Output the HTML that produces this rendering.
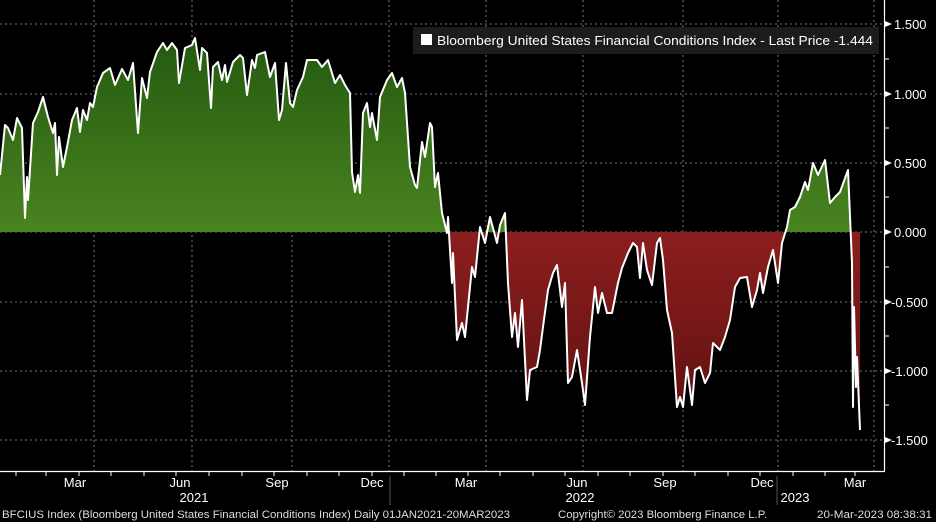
<!DOCTYPE html>
<html><head><meta charset="utf-8"><style>
html,body{margin:0;padding:0;background:#000;}
svg{display:block;font-family:"Liberation Sans",sans-serif;}
</style></head><body>
<svg width="936" height="522" viewBox="0 0 936 522" xmlns="http://www.w3.org/2000/svg">
<defs>
<linearGradient id="g" x1="0" y1="38" x2="0" y2="232" gradientUnits="userSpaceOnUse">
<stop offset="0" stop-color="#245a10"/><stop offset="1" stop-color="#4a8420"/></linearGradient>
<linearGradient id="r" x1="0" y1="232" x2="0" y2="430" gradientUnits="userSpaceOnUse">
<stop offset="0" stop-color="#8c1e1e"/><stop offset="1" stop-color="#5e1010"/></linearGradient>
<clipPath id="up"><rect x="0" y="0" width="936" height="232"/></clipPath>
<clipPath id="dn"><rect x="0" y="232" width="936" height="300"/></clipPath>
</defs>
<rect width="936" height="522" fill="#000"/>
<g stroke="#777" stroke-width="1" stroke-dasharray="2,3">
<line x1="0" y1="24" x2="884" y2="24"/><line x1="0" y1="94" x2="884" y2="94"/><line x1="0" y1="163" x2="884" y2="163"/><line x1="0" y1="232" x2="884" y2="232"/><line x1="0" y1="302" x2="884" y2="302"/><line x1="0" y1="371" x2="884" y2="371"/><line x1="0" y1="440" x2="884" y2="440"/>
<line x1="94" y1="0" x2="94" y2="471"/><line x1="192" y1="0" x2="192" y2="471"/><line x1="292" y1="0" x2="292" y2="471"/><line x1="389" y1="0" x2="389" y2="471"/><line x1="486" y1="0" x2="486" y2="471"/><line x1="583" y1="0" x2="583" y2="471"/><line x1="683" y1="0" x2="683" y2="471"/><line x1="778" y1="0" x2="778" y2="471"/><line x1="874" y1="0" x2="874" y2="471"/>
</g>
<g id="series">
<polygon clip-path="url(#up)" fill="url(#g)" points="0,232 0,175 5,125 8,128 13,140 17,118 22,128 25,218 27,177 28,200 33,123 38,112 43,97 48,117 53,133 55,123 57,175 59,137 63,167 67,147 72,120 77,108 80,132 83,110 87,120 90,103 93,107 97,87 103,73 110,68 115,85 122,69 128,80 133,63 138,133 142,78 147,98 150,72 157,52 163,43 167,50 172,43 177,50 179,83 185,48 192,45 195,38 200,70 202,48 207,53 211,108 213,67 218,62 222,80 225,65 227,82 233,62 240,55 243,58 247,95 252,60 255,68 257,55 265,52 270,77 275,63 279,120 282,110 286,63 290,103 293,107 297,90 303,77 307,60 317,60 322,67 328,60 335,83 340,75 345,85 350,93 352,172 355,192 358,175 360,193 363,113 367,103 370,127 372,113 377,140 380,97 387,80 392,73 397,87 402,78 405,93 410,167 415,185 417,188 422,142 425,157 430,123 432,127 435,187 438,173 442,213 447,233 448,217 452,283 453,253 457,340 462,323 465,337 472,267 475,277 480,227 485,243 490,217 497,243 500,225 505,213 508,283 512,337 515,313 518,347 522,300 527,400 530,370 537,367 540,350 543,327 548,290 553,273 557,265 562,307 565,283 568,383 572,377 577,350 582,383 585,405 590,337 595,287 598,313 602,293 607,313 612,313 618,283 622,268 628,253 633,243 637,247 640,278 643,243 647,270 652,285 657,243 660,238 663,260 667,310 672,333 677,407 680,397 683,407 687,367 692,405 695,370 700,367 705,383 710,373 713,343 720,350 725,337 730,320 735,287 740,278 747,277 752,307 757,290 760,273 763,293 768,267 773,250 778,283 782,243 787,227 790,210 795,207 800,197 805,182 808,190 813,163 818,175 825,160 830,203 835,197 840,192 848,170 852,263 853,407 854,307 856,387 857,357 860,430 860,232"/>
<polygon clip-path="url(#dn)" fill="url(#r)" points="0,232 0,175 5,125 8,128 13,140 17,118 22,128 25,218 27,177 28,200 33,123 38,112 43,97 48,117 53,133 55,123 57,175 59,137 63,167 67,147 72,120 77,108 80,132 83,110 87,120 90,103 93,107 97,87 103,73 110,68 115,85 122,69 128,80 133,63 138,133 142,78 147,98 150,72 157,52 163,43 167,50 172,43 177,50 179,83 185,48 192,45 195,38 200,70 202,48 207,53 211,108 213,67 218,62 222,80 225,65 227,82 233,62 240,55 243,58 247,95 252,60 255,68 257,55 265,52 270,77 275,63 279,120 282,110 286,63 290,103 293,107 297,90 303,77 307,60 317,60 322,67 328,60 335,83 340,75 345,85 350,93 352,172 355,192 358,175 360,193 363,113 367,103 370,127 372,113 377,140 380,97 387,80 392,73 397,87 402,78 405,93 410,167 415,185 417,188 422,142 425,157 430,123 432,127 435,187 438,173 442,213 447,233 448,217 452,283 453,253 457,340 462,323 465,337 472,267 475,277 480,227 485,243 490,217 497,243 500,225 505,213 508,283 512,337 515,313 518,347 522,300 527,400 530,370 537,367 540,350 543,327 548,290 553,273 557,265 562,307 565,283 568,383 572,377 577,350 582,383 585,405 590,337 595,287 598,313 602,293 607,313 612,313 618,283 622,268 628,253 633,243 637,247 640,278 643,243 647,270 652,285 657,243 660,238 663,260 667,310 672,333 677,407 680,397 683,407 687,367 692,405 695,370 700,367 705,383 710,373 713,343 720,350 725,337 730,320 735,287 740,278 747,277 752,307 757,290 760,273 763,293 768,267 773,250 778,283 782,243 787,227 790,210 795,207 800,197 805,182 808,190 813,163 818,175 825,160 830,203 835,197 840,192 848,170 852,263 853,407 854,307 856,387 857,357 860,430 860,232"/>
<polyline fill="none" stroke="#fff" stroke-width="2" stroke-linejoin="round" points="0,175 5,125 8,128 13,140 17,118 22,128 25,218 27,177 28,200 33,123 38,112 43,97 48,117 53,133 55,123 57,175 59,137 63,167 67,147 72,120 77,108 80,132 83,110 87,120 90,103 93,107 97,87 103,73 110,68 115,85 122,69 128,80 133,63 138,133 142,78 147,98 150,72 157,52 163,43 167,50 172,43 177,50 179,83 185,48 192,45 195,38 200,70 202,48 207,53 211,108 213,67 218,62 222,80 225,65 227,82 233,62 240,55 243,58 247,95 252,60 255,68 257,55 265,52 270,77 275,63 279,120 282,110 286,63 290,103 293,107 297,90 303,77 307,60 317,60 322,67 328,60 335,83 340,75 345,85 350,93 352,172 355,192 358,175 360,193 363,113 367,103 370,127 372,113 377,140 380,97 387,80 392,73 397,87 402,78 405,93 410,167 415,185 417,188 422,142 425,157 430,123 432,127 435,187 438,173 442,213 447,233 448,217 452,283 453,253 457,340 462,323 465,337 472,267 475,277 480,227 485,243 490,217 497,243 500,225 505,213 508,283 512,337 515,313 518,347 522,300 527,400 530,370 537,367 540,350 543,327 548,290 553,273 557,265 562,307 565,283 568,383 572,377 577,350 582,383 585,405 590,337 595,287 598,313 602,293 607,313 612,313 618,283 622,268 628,253 633,243 637,247 640,278 643,243 647,270 652,285 657,243 660,238 663,260 667,310 672,333 677,407 680,397 683,407 687,367 692,405 695,370 700,367 705,383 710,373 713,343 720,350 725,337 730,320 735,287 740,278 747,277 752,307 757,290 760,273 763,293 768,267 773,250 778,283 782,243 787,227 790,210 795,207 800,197 805,182 808,190 813,163 818,175 825,160 830,203 835,197 840,192 848,170 852,263 853,407 854,307 856,387 857,357 860,430"/>
</g>
<!-- legend -->
<rect x="413" y="27" width="466" height="27" fill="#1c1c1c"/>
<rect x="421" y="34" width="11" height="11" fill="#fff"/>
<text x="437" y="45" fill="#fff" font-size="13" textLength="436" lengthAdjust="spacingAndGlyphs">Bloomberg United States Financial Conditions Index - Last Price  -1.444</text>
<!-- y axis -->
<line x1="884.5" y1="0" x2="884.5" y2="471" stroke="#fff" stroke-width="1.2"/>
<line x1="0" y1="471.5" x2="885" y2="471.5" stroke="#fff" stroke-width="1.2"/>
<g fill="#fff">
<polygon points="885,21 892,24 885,27"/><polygon points="885,91 892,94 885,97"/><polygon points="885,160 892,163 885,166"/><polygon points="885,229 892,232 885,235"/><polygon points="885,299 892,302 885,305"/><polygon points="885,368 892,371 885,374"/><polygon points="885,437 892,440 885,443"/>
</g>
<g stroke="#fff"><line x1="884" y1="59" x2="889" y2="59"/><line x1="884" y1="128" x2="889" y2="128"/><line x1="884" y1="197" x2="889" y2="197"/><line x1="884" y1="267" x2="889" y2="267"/><line x1="884" y1="336" x2="889" y2="336"/><line x1="884" y1="405" x2="889" y2="405"/></g>
<g fill="#fff" font-size="13">
<text x="894" y="29">1.500</text><text x="894" y="99">1.000</text><text x="894" y="168">0.500</text><text x="894" y="237">0.000</text><text x="891" y="307">-0.500</text><text x="891" y="376">-1.000</text><text x="891" y="445">-1.500</text>
</g>
<!-- x ticks -->
<g stroke="#fff" stroke-width="1">
<line x1="16" y1="471" x2="16" y2="476"/><line x1="46" y1="471" x2="46" y2="476"/><line x1="79" y1="471" x2="79" y2="476"/><line x1="111" y1="471" x2="111" y2="476"/><line x1="144" y1="471" x2="144" y2="476"/><line x1="176" y1="471" x2="176" y2="476"/><line x1="209" y1="471" x2="209" y2="476"/><line x1="242" y1="471" x2="242" y2="476"/><line x1="274" y1="471" x2="274" y2="476"/><line x1="307" y1="471" x2="307" y2="476"/><line x1="339" y1="471" x2="339" y2="476"/><line x1="372" y1="471" x2="372" y2="476"/><line x1="404" y1="471" x2="404" y2="476"/><line x1="436" y1="471" x2="436" y2="476"/><line x1="468" y1="471" x2="468" y2="476"/><line x1="500" y1="471" x2="500" y2="476"/><line x1="533" y1="471" x2="533" y2="476"/><line x1="565" y1="471" x2="565" y2="476"/><line x1="598" y1="471" x2="598" y2="476"/><line x1="630" y1="471" x2="630" y2="476"/><line x1="663" y1="471" x2="663" y2="476"/><line x1="695" y1="471" x2="695" y2="476"/><line x1="728" y1="471" x2="728" y2="476"/><line x1="760" y1="471" x2="760" y2="476"/><line x1="793" y1="471" x2="793" y2="476"/><line x1="825" y1="471" x2="825" y2="476"/><line x1="855" y1="471" x2="855" y2="476"/>
</g>
<g stroke="#555"><line x1="390" y1="476" x2="390" y2="505"/><line x1="777" y1="476" x2="777" y2="505"/></g>
<g fill="#fff" font-size="13" text-anchor="middle">
<text x="75" y="487">Mar</text><text x="180" y="487">Jun</text><text x="277" y="487">Sep</text><text x="372" y="487">Dec</text><text x="466" y="487">Mar</text><text x="577" y="487">Jun</text><text x="665" y="487">Sep</text><text x="762" y="487">Dec</text><text x="855" y="487">Mar</text>
<text x="194" y="502">2021</text><text x="580" y="502">2022</text><text x="795" y="502">2023</text>
</g>
<g fill="#ddd" font-size="11">
<text x="2" y="518" textLength="508" lengthAdjust="spacingAndGlyphs">BFCIUS Index (Bloomberg United States Financial Conditions Index)  Daily 01JAN2021-20MAR2023</text>
<text x="558" y="518" textLength="209" lengthAdjust="spacingAndGlyphs">Copyright© 2023 Bloomberg Finance L.P.</text>
<text x="817" y="518" textLength="115" lengthAdjust="spacingAndGlyphs">20-Mar-2023 08:38:31</text>
</g>
</svg>
</body></html>
